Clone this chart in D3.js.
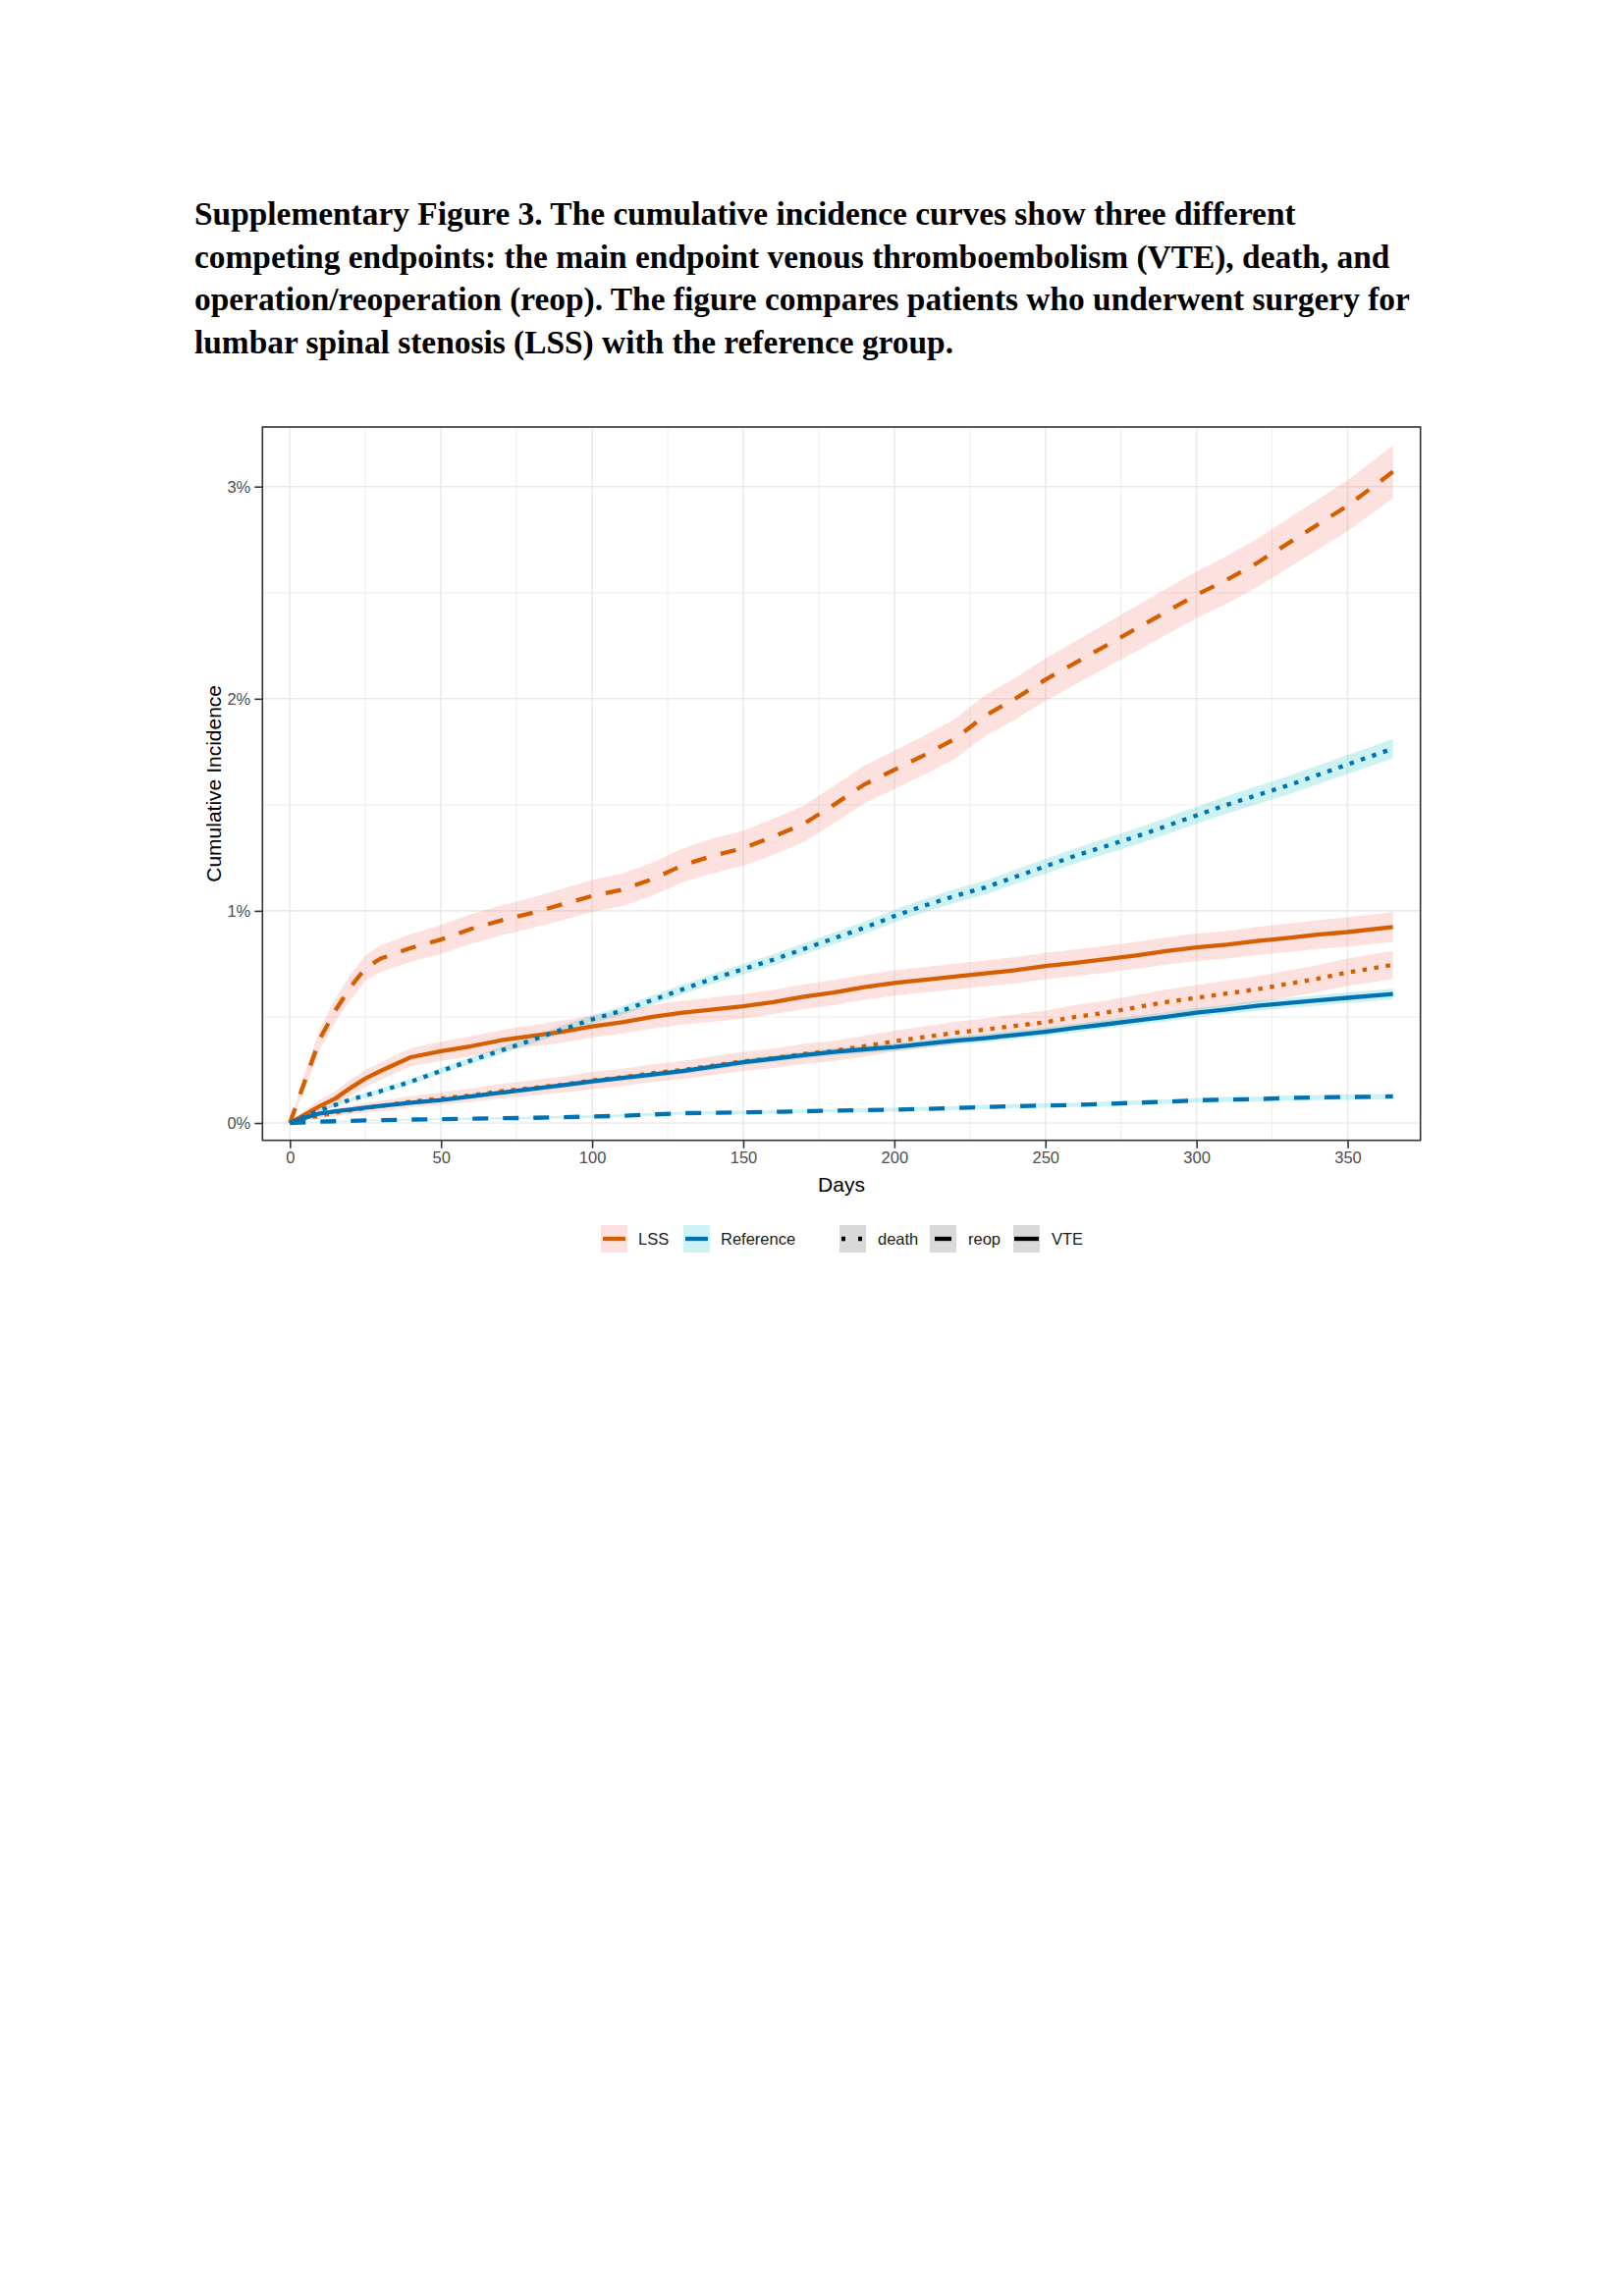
<!DOCTYPE html>
<html>
<head>
<meta charset="utf-8">
<script src="https://cdn.jsdelivr.net/npm/d3@7"></script>
<style>
  html, body { margin: 0; padding: 0; background: #ffffff; }
  svg { display: block; }
</style>
</head>
<body>
<svg id="chart" width="1654" height="2339"></svg>
<script>
// ---------------- DATA ----------------
const titleLines = [
  "Supplementary Figure 3. The cumulative incidence curves show three different",
  "competing endpoints: the main endpoint venous thromboembolism (VTE), death, and",
  "operation/reoperation (reop). The figure compares patients who underwent surgery for",
  "lumbar spinal stenosis (LSS) with the reference group."
];

const days = [0,5,10,15,20,25,30,40,50,60,70,80,90,100,110,120,130,140,150,160,170,180,190,200,210,220,230,240,250,260,270,280,290,300,310,320,330,340,350,365];

// cumulative incidence (%)
const lssReop  = [0,0.20,0.40,0.53,0.64,0.73,0.775,0.825,0.865,0.915,0.955,0.99,1.03,1.07,1.10,1.15,1.215,1.26,1.295,1.35,1.41,1.50,1.595,1.665,1.735,1.81,1.92,2.00,2.09,2.17,2.25,2.33,2.41,2.49,2.56,2.64,2.73,2.82,2.91,3.07];
const lssVTE   = [0,0.04,0.08,0.115,0.165,0.21,0.245,0.31,0.338,0.362,0.39,0.41,0.43,0.455,0.475,0.50,0.52,0.535,0.55,0.57,0.595,0.615,0.64,0.66,0.675,0.69,0.705,0.72,0.74,0.755,0.772,0.79,0.81,0.828,0.84,0.858,0.872,0.888,0.90,0.924];
const lssDeath = [0,0.02,0.035,0.05,0.06,0.07,0.08,0.10,0.115,0.13,0.15,0.165,0.18,0.20,0.215,0.235,0.25,0.27,0.29,0.305,0.325,0.34,0.362,0.385,0.405,0.425,0.44,0.458,0.475,0.50,0.52,0.545,0.57,0.59,0.61,0.63,0.655,0.68,0.71,0.745];
const refDeath = [0,0.03,0.06,0.085,0.11,0.13,0.15,0.195,0.245,0.295,0.342,0.39,0.44,0.488,0.53,0.58,0.63,0.68,0.725,0.77,0.82,0.87,0.92,0.975,1.025,1.07,1.11,1.16,1.21,1.26,1.305,1.35,1.40,1.45,1.50,1.545,1.59,1.64,1.69,1.765];
const refVTE   = [0,0.025,0.045,0.055,0.063,0.072,0.08,0.095,0.108,0.125,0.143,0.16,0.178,0.196,0.212,0.228,0.245,0.265,0.286,0.303,0.32,0.335,0.347,0.358,0.373,0.388,0.40,0.415,0.43,0.448,0.465,0.483,0.50,0.52,0.535,0.552,0.565,0.578,0.59,0.608];
const refReop  = [0,0.003,0.006,0.008,0.01,0.012,0.013,0.016,0.018,0.02,0.022,0.024,0.027,0.03,0.034,0.04,0.046,0.048,0.05,0.052,0.055,0.058,0.06,0.063,0.066,0.07,0.075,0.079,0.082,0.085,0.09,0.095,0.10,0.107,0.11,0.112,0.118,0.12,0.122,0.125];

// confidence band half-widths (%)
const lssReopCI  = [0,0.04,0.05,0.055,0.06,0.06,0.062,0.065,0.068,0.07,0.07,0.072,0.074,0.075,0.077,0.078,0.08,0.082,0.083,0.085,0.086,0.088,0.089,0.09,0.092,0.094,0.096,0.098,0.10,0.102,0.104,0.106,0.108,0.11,0.112,0.114,0.116,0.118,0.12,0.124];
const lssVTECI   = [0,0.02,0.03,0.035,0.038,0.04,0.041,0.043,0.045,0.047,0.048,0.05,0.052,0.053,0.054,0.055,0.056,0.057,0.057,0.058,0.058,0.059,0.059,0.06,0.06,0.061,0.061,0.062,0.062,0.063,0.063,0.064,0.064,0.065,0.065,0.066,0.067,0.068,0.069,0.07];
const lssDeathCI = [0,0.01,0.015,0.018,0.02,0.022,0.024,0.027,0.03,0.032,0.034,0.036,0.038,0.04,0.041,0.042,0.043,0.044,0.045,0.046,0.047,0.048,0.049,0.05,0.051,0.052,0.053,0.054,0.055,0.056,0.057,0.058,0.059,0.06,0.061,0.062,0.063,0.064,0.065,0.066];
const refDeathCI = [0,0.004,0.006,0.008,0.01,0.011,0.012,0.013,0.015,0.016,0.017,0.018,0.019,0.02,0.021,0.022,0.023,0.024,0.025,0.026,0.027,0.028,0.029,0.03,0.031,0.032,0.033,0.034,0.035,0.036,0.037,0.038,0.039,0.04,0.041,0.042,0.043,0.044,0.045,0.046];
const refVTECI   = [0,0.003,0.004,0.005,0.006,0.007,0.007,0.008,0.009,0.01,0.011,0.011,0.012,0.013,0.013,0.014,0.014,0.015,0.015,0.016,0.016,0.017,0.017,0.018,0.018,0.019,0.019,0.02,0.02,0.021,0.021,0.022,0.022,0.023,0.023,0.024,0.024,0.025,0.025,0.026];
const refReopCI  = [0,0.001,0.002,0.002,0.003,0.003,0.003,0.004,0.004,0.005,0.005,0.005,0.006,0.006,0.006,0.007,0.007,0.007,0.008,0.008,0.008,0.008,0.009,0.009,0.009,0.009,0.01,0.01,0.01,0.01,0.011,0.011,0.011,0.011,0.012,0.012,0.012,0.012,0.013,0.013];

const xTicks = [0,50,100,150,200,250,300,350];
const xMinor = [25,75,125,175,225,275,325];
const yTicks = [0,1,2,3];
const yMinor = [0.5,1.5,2.5];

const groupNames = ["LSS","Reference"];
const endpointNames = ["death","reop","VTE"];

// ---------------- STYLE ----------------
const groupColor = { "LSS": "#D55E00", "Reference": "#0072B2" };
const groupFill  = { "LSS": "rgba(248,118,109,0.22)", "Reference": "rgba(0,191,196,0.2)" };
const groupKeyFill = { "LSS": "#FDE1DF", "Reference": "#CCF2F3" };
const dash = { "death": "4.5,7.5", "reop": "16,15", "VTE": null };
const lineW = 4.3;

const series = [
  { group: "LSS", endpoint: "reop", v: lssReop, ci: lssReopCI },
  { group: "LSS", endpoint: "VTE", v: lssVTE, ci: lssVTECI },
  { group: "LSS", endpoint: "death", v: lssDeath, ci: lssDeathCI },
  { group: "Reference", endpoint: "death", v: refDeath, ci: refDeathCI },
  { group: "Reference", endpoint: "VTE", v: refVTE, ci: refVTECI },
  { group: "Reference", endpoint: "reop", v: refReop, ci: refReopCI }
];

const svg = d3.select("#chart");
svg.append("rect").attr("width", 1654).attr("height", 2339).attr("fill", "#ffffff");

// ---------------- TITLE ----------------
const title = svg.append("text")
  .attr("font-family", "'Liberation Serif', 'Times New Roman', serif")
  .attr("font-weight", "bold")
  .attr("font-size", 33.4)
  .attr("fill", "#000");
titleLines.forEach((t, i) => {
  title.append("tspan").attr("x", 198).attr("y", 229 + i * 43.6).text(t);
});

// ---------------- SCALES ----------------
const panel = { left: 267.3, right: 1446.7, top: 435, bottom: 1161.7 };
const x = d3.scaleLinear().domain([-9.1, 374.1]).range([panel.left, panel.right]);
const y = d3.scaleLinear().domain([-0.082, 3.281]).range([panel.bottom, panel.top]);

const g = svg.append("g");

// grid
const grid = g.append("g");
grid.selectAll("line.xminor").data(xMinor).enter().append("line")
  .attr("x1", d => x(d)).attr("x2", d => x(d)).attr("y1", panel.top).attr("y2", panel.bottom)
  .attr("stroke", "#EBEBEB").attr("stroke-width", 0.9);
grid.selectAll("line.yminor").data(yMinor).enter().append("line")
  .attr("y1", d => y(d)).attr("y2", d => y(d)).attr("x1", panel.left).attr("x2", panel.right)
  .attr("stroke", "#EBEBEB").attr("stroke-width", 0.9);
grid.selectAll("line.xmajor").data(xTicks).enter().append("line")
  .attr("x1", d => x(d)).attr("x2", d => x(d)).attr("y1", panel.top).attr("y2", panel.bottom)
  .attr("stroke", "#EBEBEB").attr("stroke-width", 1.6);
grid.selectAll("line.ymajor").data(yTicks).enter().append("line")
  .attr("y1", d => y(d)).attr("y2", d => y(d)).attr("x1", panel.left).attr("x2", panel.right)
  .attr("stroke", "#EBEBEB").attr("stroke-width", 1.6);

// ribbons
const area = d3.area()
  .x((d, i) => x(days[i]))
  .y0(d => y(d.lo))
  .y1(d => y(d.hi));
series.forEach(s => {
  const pts = s.v.map((v, i) => ({ lo: Math.max(0, v - s.ci[i]), hi: v + s.ci[i] }));
  g.append("path").datum(pts)
    .attr("d", area)
    .attr("fill", groupFill[s.group])
    .attr("stroke", "none");
});

// lines
const line = d3.line().x((d, i) => x(days[i])).y(d => y(d));
series.forEach(s => {
  const p = g.append("path").datum(s.v)
    .attr("d", line)
    .attr("fill", "none")
    .attr("stroke", groupColor[s.group])
    .attr("stroke-width", lineW)
    .attr("stroke-linejoin", "round");
  if (dash[s.endpoint]) p.attr("stroke-dasharray", dash[s.endpoint]);
});

// panel border
g.append("rect")
  .attr("x", panel.left).attr("y", panel.top)
  .attr("width", panel.right - panel.left).attr("height", panel.bottom - panel.top)
  .attr("fill", "none").attr("stroke", "#333333").attr("stroke-width", 1.6);

// axes
const xAxis = d3.axisBottom(x).tickValues(xTicks).tickSize(8).tickPadding(4).tickFormat(d3.format("d"));
const yAxis = d3.axisLeft(y).tickValues(yTicks).tickSize(8).tickPadding(4).tickFormat(d => d + "%");

const gx = svg.append("g").attr("transform", `translate(0,${panel.bottom})`).call(xAxis);
const gy = svg.append("g").attr("transform", `translate(${panel.left},0)`).call(yAxis);
[gx, gy].forEach(a => {
  a.select(".domain").remove();
  a.selectAll(".tick line").attr("stroke", "#333333").attr("stroke-width", 1.6);
  a.selectAll(".tick text")
    .attr("fill", "#4D4D4D")
    .attr("font-family", "'Liberation Sans', Arial, sans-serif")
    .attr("font-size", 16.5);
});

// axis titles
svg.append("text")
  .attr("x", x(182.5)).attr("y", 1214)
  .attr("text-anchor", "middle")
  .attr("font-family", "'Liberation Sans', Arial, sans-serif")
  .attr("font-size", 21)
  .attr("fill", "#000")
  .text("Days");
svg.append("text")
  .attr("transform", `translate(225,${(panel.top + panel.bottom) / 2}) rotate(-90)`)
  .attr("text-anchor", "middle")
  .attr("font-family", "'Liberation Sans', Arial, sans-serif")
  .attr("font-size", 21)
  .attr("fill", "#000")
  .text("Cumulative Incidence");

// ---------------- LEGEND ----------------
const legY = 1262;
const keyW = 27, keyH = 28;
const legend = svg.append("g")
  .attr("font-family", "'Liberation Sans', Arial, sans-serif")
  .attr("font-size", 16.5)
  .attr("fill", "#1A1A1A");

const groupKeyX = [612, 696];
groupNames.forEach((name, i) => {
  const kx = groupKeyX[i];
  legend.append("rect").attr("x", kx).attr("y", legY - keyH / 2).attr("width", keyW).attr("height", keyH)
    .attr("fill", groupKeyFill[name]);
  legend.append("line").attr("x1", kx + 2).attr("x2", kx + keyW - 2).attr("y1", legY).attr("y2", legY)
    .attr("stroke", groupColor[name]).attr("stroke-width", lineW);
  legend.append("text").attr("x", kx + keyW + 11).attr("y", legY).attr("dy", "0.36em").text(name);
});

const epKeyX = [855, 947, 1032];
endpointNames.forEach((name, i) => {
  const kx = epKeyX[i];
  legend.append("rect").attr("x", kx).attr("y", legY - keyH / 2).attr("width", keyW).attr("height", keyH)
    .attr("fill", "#D9D9D9");
  const l = legend.append("line").attr("y1", legY).attr("y2", legY)
    .attr("stroke", "#000").attr("stroke-width", lineW);
  if (name === "death") {
    l.attr("x1", kx + 2).attr("x2", kx + 25).attr("stroke-dasharray", "4,13");
  } else if (name === "reop") {
    l.attr("x1", kx + 5).attr("x2", kx + 22);
  } else {
    l.attr("x1", kx + 1).attr("x2", kx + keyW - 1);
  }
  legend.append("text").attr("x", kx + keyW + 12).attr("y", legY).attr("dy", "0.36em").text(name);
});
</script>
</body>
</html>
